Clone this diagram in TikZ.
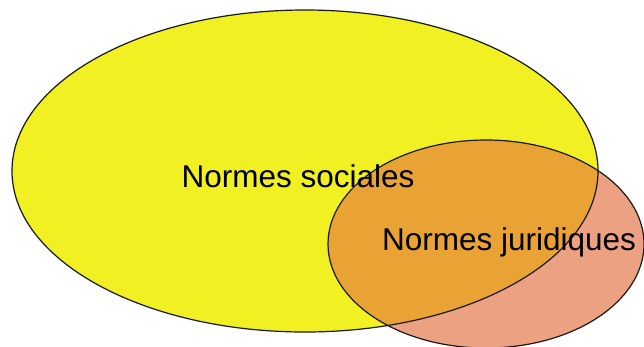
\documentclass[tikz,border=0pt]{standalone}
\usepackage{fontspec}
\setmainfont{Liberation Sans}
\definecolor{ylw}{RGB}{240,240,34}
\definecolor{slm}{RGB}{236,162,130}
\definecolor{org}{RGB}{233,162,52}
\begin{document}
\begin{tikzpicture}[x=1pt,y=-1pt,
  lbl/.style={font=\fontsize{31.5}{36}\selectfont, text=black, anchor=base, inner sep=0pt},
  edge/.style={draw=black!90, line width=1.2pt}]
\useasboundingbox (0,0) rectangle (644,346);
\fill[white] (0,0) rectangle (644,346);
\fill[ylw] (305,171) ellipse [x radius=293, y radius=161];
\fill[slm] (486,244) ellipse [x radius=158, y radius=104];
\begin{scope}
  \clip (305,171) ellipse [x radius=293, y radius=161];
  \fill[org] (486,244) ellipse [x radius=158, y radius=104];
\end{scope}
\draw[edge] (305,171) ellipse [x radius=293, y radius=161];
\draw[edge] (486,244) ellipse [x radius=158, y radius=104];
\node[lbl] (soc) at (298,187) {Normes sociales};
\node[lbl] (jur) at (509,250) {Normes juridiques};
\end{tikzpicture}
\end{document}
